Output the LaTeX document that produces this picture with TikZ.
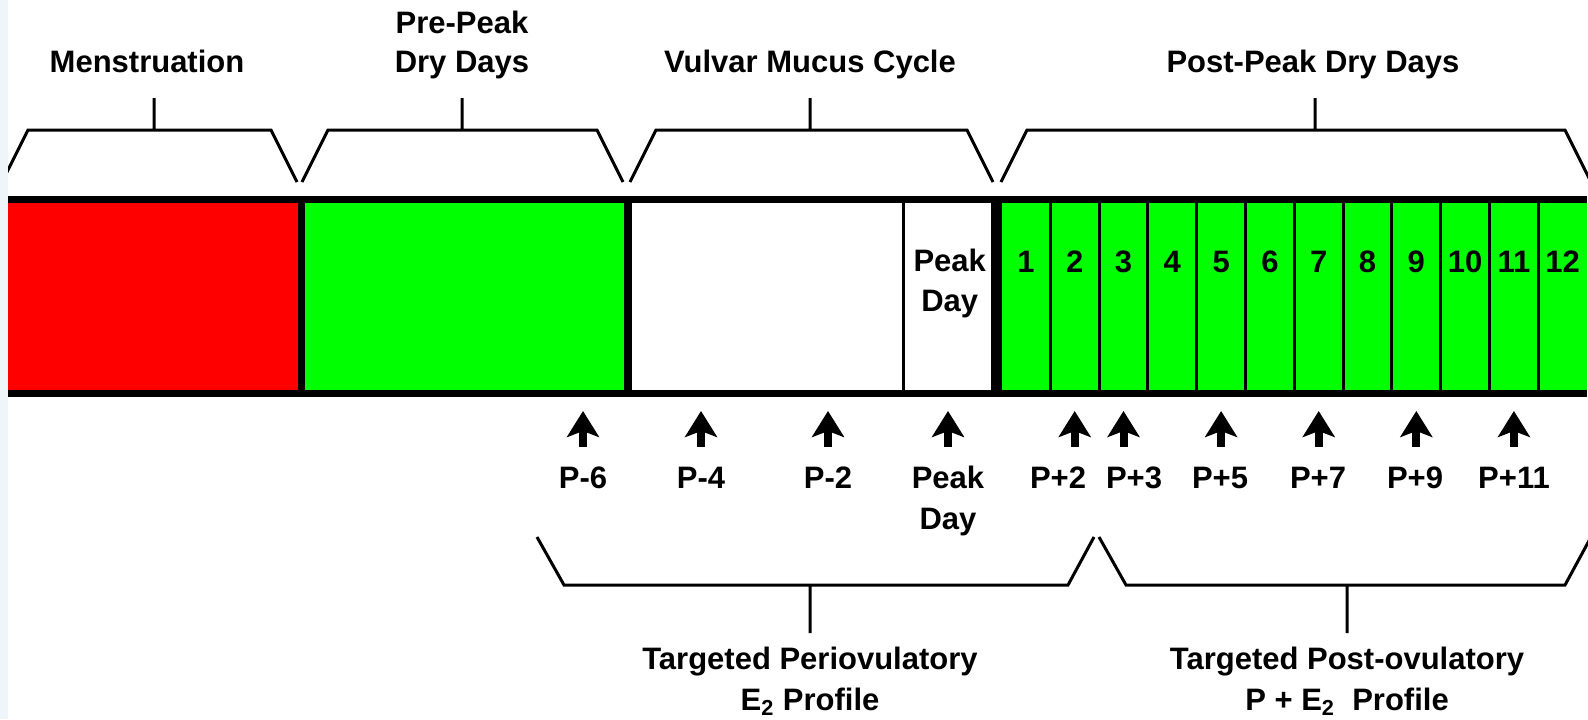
\documentclass[tikz,border=0pt]{standalone}
\usepackage{fontspec}
\setmainfont{Liberation Sans}
\usetikzlibrary{arrows.meta,positioning}
\definecolor{cyred}{RGB}{255,0,0}
\definecolor{cygreen}{RGB}{0,255,0}
\definecolor{cyedge}{RGB}{238,246,249}

\begin{document}
\begin{tikzpicture}[x=0.5pt, y=-0.5pt, >=Stealth,
  lbl/.style={font=\fontsize{15.5}{19}\selectfont\bfseries, inner sep=0pt, anchor=base, text height=11pt, text depth=0pt},
  seg/.style={inner sep=0pt, outer sep=0pt, minimum height=96.75pt},
  brace/.style={line width=1.5pt, line join=miter},
  rim/.style={line width=3.5pt},
  uparr/.style={line width=4pt, -{Stealth[length=13pt,width=16pt,inset=3pt]}, shorten <=9.5pt, shorten >=9pt}]
  \useasboundingbox (0,0) rectangle (1588,719);
  \fill[white] (0,0) rectangle (1588,719);
  % the bar
  \node[seg, fill=cyred, minimum width=146.5pt] (mens) at (154.5,296.25) {};
  \node[seg, fill=cygreen, minimum width=163.5pt] (pre) at (464.5,296.25) {};
  \node[seg, fill=white, minimum width=137.75pt] (mucus) at (765.75,296.25) {};
  \node[seg, fill=white, minimum width=46.25pt] (peak) at (949.75,296.25) {};
  \foreach \k in {1,...,12} {
    \node[seg, fill=cygreen, minimum width=24.4pt] (cell\k) at ({1001.5+48.8*(\k-0.5)},296.25) {};
    \node[lbl] (num\k) at ({1001.5+48.8*(\k-0.5)},272) {\k};
  }
  \node[lbl] (peakA) at (949.75,271) {Peak};
  \node[lbl] (peakB) at (949.75,311) {Day};
  % borders
  \draw[rim] (mens.north west) -- (cell12.north east);
  \draw[rim] (mens.south west) -- (cell12.south east);
  \draw[rim] (mens.north east) -- (mens.south east);
  \draw[line width=4pt] (pre.north east) -- (pre.south east);
  \draw[line width=1.5pt] (mucus.north east) -- (mucus.south east);
  \draw[line width=5.5pt] (peak.north east) -- (peak.south east);
  \foreach \k in {1,...,11}
    \draw[line width=1.5pt] (cell\k.north east) -- (cell\k.south east);
  % phases above
  \node[lbl] (menslbl) at (147,72) {Menstruation};
  \node[lbl] (prelbl) at (462,33) {Pre-Peak};
  \node[lbl] (prelblb) at (462,72) {Dry Days};
  \node[lbl] (mucuslbl) at (810,72) {Vulvar Mucus Cycle};
  \node[lbl] (postlbl) at (1313,72) {Post-Peak Dry Days};
  \foreach \lft/\rgt/\stem in {2/297/154, 302/623/462, 630/993/810, 1001/1591/1315}
    \draw[brace] (\lft,182) -- (\lft+26,130) -- (\rgt-26,130) -- (\rgt,182) (\stem,130) -- (\stem,98);
  % sampling days
  \foreach \name/\xx/\lab in {pm6/583/P-6, pm4/701/P-4, pm2/828/P-2} {
    \node[lbl] (\name) at (\xx,488) {\lab};
    \draw[uparr] (\name.north) -- (\name.north |- mucus.south);
  }
  \node[lbl] (pdA) at (948,488) {Peak};
  \node[lbl] (pdB) at (948,529) {Day};
  \draw[uparr] (pdA.north) -- (pdA.north |- peak.south);
  \foreach \k/\xx in {2/1058, 3/1134, 5/1220, 7/1318, 9/1415, 11/1514} {
    \node[lbl] (pp\k) at (\xx,488) {P+\k};
    \draw[uparr] (pp\k.north -| cell\k) -- (cell\k.south);
  }
  % profiles below
  \foreach \lft/\rgt/\stem in {537/1094/810, 1099/1591/1347}
    \draw[brace] (\lft,537) -- (\lft+27,585) -- (\rgt-26,585) -- (\rgt,537) (\stem,585) -- (\stem,633);
  \node[lbl] (perilbl) at (810,669) {Targeted Periovulatory};
  \node[lbl] (perilblb) at (810,710) {E\textsubscript{2} Profile};
  \node[lbl] (postovlbl) at (1347,669) {Targeted Post-ovulatory};
  \node[lbl] (postovlblb) at (1347,710) {P + E\textsubscript{2}\ \ Profile};
  \fill[cyedge] (0,0) rectangle (8,719);
\end{tikzpicture}
\end{document}
